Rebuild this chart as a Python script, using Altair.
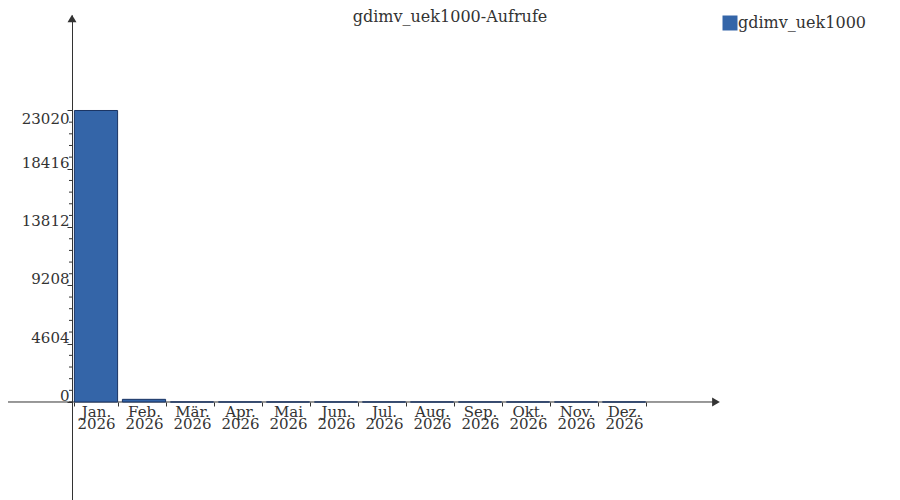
import altair as alt
import pandas as pd

# ---- data ----
months = ["Jan.", "Feb.", "Mär.", "Apr.", "Mai", "Jun.", "Jul.", "Aug.", "Sep.", "Okt.", "Nov.", "Dez."]
year = "2026"
calls = [23020, 210, 0, 0, 0, 0, 0, 0, 0, 0, 0, 0]
series_name = "gdimv_uek1000"
chart_title = "gdimv_uek1000-Aufrufe"
y_tick_values = [0, 4604, 9208, 13812, 18416, 23020]
y_minor_values = [0, 920.8, 1841.6, 2762.4, 3683.2, 5524.8, 6445.6, 7366.4, 8287.2,
                  10128.8, 11049.6, 11970.4, 12891.2, 14732.8, 15653.6, 16574.4, 17495.2,
                  19336.8, 20257.6, 21178.4, 22099.2]

FONT = "DejaVu Serif"
FS = 15
TXT = "#333333"
AX = "#333333"
FILL = "#3465a8"
STROKE = "#1a3463"

df = pd.DataFrame({
    "label": [f"{m}\n{year}" for m in months],
    "calls": calls,
    "series": [series_name] * len(months),
})
minor_df = pd.DataFrame({"v": y_minor_values})
one = pd.DataFrame({"z": [0], "t": [chart_title]})

yscale = alt.Scale(domain=[-7739, 30561], nice=False, zero=False)

bars = alt.Chart(df).mark_bar(stroke=STROKE, strokeWidth=1).encode(
    x=alt.X(
        "label:N", sort=None, title=None,
        scale=alt.Scale(paddingInner=0.1, paddingOuter=0.05),
        axis=alt.Axis(
            offset=-98, labelAngle=0, domain=False,
            labelExpr="split(datum.label, '\\n')",
            tickBand="extent", tickSize=4, tickColor=AX,
            labelFont=FONT, labelFontSize=FS, labelColor=TXT,
            labelLineHeight=12, labelPadding=-2,
        ),
    ),
    y=alt.Y(
        "calls:Q", title=None, scale=yscale,
        axis=alt.Axis(
            values=y_tick_values, format="d", grid=False,
            tickSize=5, tickColor=AX, domainColor=AX,
            labelFont=FONT, labelFontSize=FS, labelColor=TXT,
            labelPadding=-2, labelFlush=False, labelOverlap=False,
            labelBaseline={"condition": {"test": "datum.value >= 23020", "value": "top"},
                           "value": "alphabetic"},
            labelOffset={"condition": {"test": "datum.value >= 23020", "value": 1},
                         "value": -1.5},
        ),
    ),
    color=alt.Color(
        "series:N", scale=alt.Scale(range=[FILL]),
        legend=alt.Legend(
            title=None, orient="none", legendX=650, legendY=0, padding=0,
            symbolType="square", symbolSize=225, symbolStrokeWidth=0,
            labelFont=FONT, labelFontSize=16, labelColor=TXT, labelOffset=0,
        ),
    ),
)

minor = alt.Chart(minor_df).mark_rule(color=AX, strokeWidth=1).encode(
    x=alt.value(-3), x2=alt.value(0), y=alt.Y("v:Q", scale=yscale)
)

xline = alt.Chart(one).mark_rule(color=AX, strokeWidth=1).encode(
    x=alt.value(-72), x2=alt.value(645), y=alt.Y("z:Q", scale=yscale)
)

arrow_y = alt.Chart(one).mark_point(shape="triangle-up", filled=True, size=80, color=AX, opacity=1).encode(
    x=alt.value(0), y=alt.value(3.5)
)
arrow_x = alt.Chart(one).mark_point(shape="triangle-right", filled=True, size=80, color=AX, opacity=1).encode(
    x=alt.value(644), y=alt.Y("z:Q", scale=yscale)
)

title_txt = alt.Chart(one).mark_text(
    font=FONT, fontSize=16, color=TXT, align="center", baseline="alphabetic"
).encode(x=alt.value(378), y=alt.value(7), text="t:N")

chart = alt.layer(xline, bars, minor, arrow_y, arrow_x, title_txt).properties(
    width=576, height=485,
    background="white",
    autosize=alt.AutoSizeParams(type="none"),
    padding={"left": 64, "top": 7, "right": 244, "bottom": 0},
).configure_view(strokeWidth=0, stroke="transparent")

chart.save("out.html", embed_options={"renderer": "svg", "actions": False})
